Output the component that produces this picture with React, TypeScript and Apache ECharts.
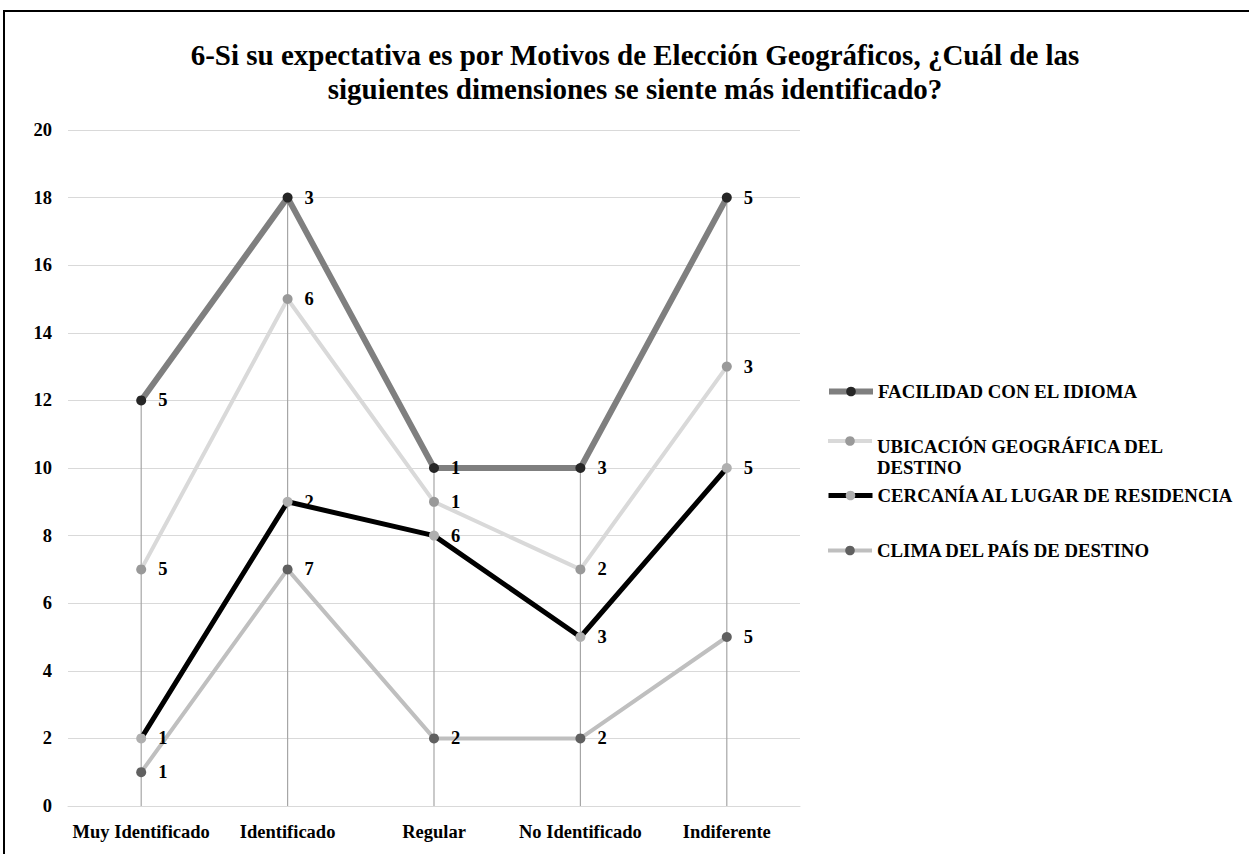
import React, { useEffect, useRef } from "react";
import * as echarts from "echarts";

const categories = ["Muy Identificado", "Identificado", "Regular", "No Identificado", "Indiferente"];
const seriesNames = [
  "CLIMA DEL PAÍS DE DESTINO",
  "CERCANÍA AL LUGAR DE RESIDENCIA",
  "UBICACIÓN GEOGRÁFICA DEL DESTINO",
  "FACILIDAD CON EL IDIOMA",
];
const climaValues = [1, 7, 2, 2, 5];
const cercaniaValues = [1, 2, 6, 3, 5];
const ubicacionValues = [5, 6, 1, 2, 3];
const facilidadValues = [5, 3, 1, 3, 5];
const yTicks = { min: 0, max: 20, interval: 2 };
const titleText =
  "6-Si su expectativa es por Motivos de Elección Geográficos, ¿Cuál de las\nsiguientes dimensiones se siente más identificado?";

const FONT = "'Liberation Serif', 'Times New Roman', serif";

export default function App() {
  const ref = useRef<HTMLDivElement>(null);
  useEffect(() => {
    document.body.style.margin = "0";
    const chart = echarts.init(ref.current!, null, { renderer: "svg" });
    const all = [climaValues, cercaniaValues, ubicacionValues, facilidadValues];
    const totals = categories.map((_, i) => all.reduce((s, a) => s + a[i], 0));
    const styles = [
      { line: "#bfbfbf", width: 4, marker: "#606060" },
      { line: "#000000", width: 5, marker: "#afafaf" },
      { line: "#d9d9d9", width: 4, marker: "#999999" },
      { line: "#7f7f7f", width: 6, marker: "#262626" },
    ];
    const labelStyle = {
      show: true,
      position: "right",
      distance: 12,
      fontFamily: FONT,
      fontWeight: "bold",
      fontSize: 18.5,
      color: "#000",
    };
    const lineSeries = all.map((vals, k) => ({
      type: "line",
      name: seriesNames[k],
      stack: "total",
      data: vals,
      symbol: "circle",
      symbolSize: 10,
      z: 3,
      lineStyle: { color: styles[k].line, width: styles[k].width },
      itemStyle: { color: styles[k].marker, borderWidth: 0 },
      label: labelStyle,
      emphasis: { disabled: true },
    }));
    const legendTops = [
      { k: 3, top: 381 },
      { k: 2, top: 404.5 },
      { k: 1, top: 485 },
      { k: 0, top: 540 },
    ];
    const legends = legendTops.map((l) => ({
      data: [seriesNames[l.k]],
      left: 826,
      top: l.top,
      padding: 0,
      orient: "vertical",
      itemWidth: 44,
      itemHeight: 12,
      itemGap: 0,
      selectedMode: false,
      lineStyle: { width: styles[l.k].width },
      formatter: (n: string) =>
        n === seriesNames[2]
          ? "{s| }\n{b|UBICACIÓN GEOGRÁFICA DEL}\n{b|DESTINO}"
          : n,
      textStyle: {
        fontFamily: FONT,
        fontWeight: "bold",
        fontSize: 18.8,
        color: "#000",
        lineHeight: 21,
        rich: {
          s: { lineHeight: 31, height: 31, fontSize: 10 },
          b: {
            fontFamily: FONT,
            fontWeight: "bold",
            fontSize: 18.8,
            lineHeight: 21,
            color: "#000",
          },
        },
      },
    }));
    chart.setOption({
      animation: false,
      graphic: [
        {
          type: "rect",
          shape: { x: 4, y: 11, width: 1300, height: 900 },
          style: { fill: "none", stroke: "#000", lineWidth: 2 },
          silent: true,
        },
        {
          type: "text",
          x: 635,
          y: 38,
          silent: true,
          style: {
            text: titleText,
            fontFamily: FONT,
            fontWeight: "bold",
            fontSize: 29,
            lineHeight: 34,
            fill: "#000",
            align: "center",
            verticalAlign: "top",
          },
        },
      ],
      legend: legends,
      grid: { left: 68, right: 449, top: 130, bottom: 48 },
      xAxis: {
        type: "category",
        data: categories,
        boundaryGap: true,
        axisLine: { show: true, lineStyle: { color: "#d9d9d9" } },
        axisTick: { show: false },
        axisLabel: {
          margin: 16,
          fontFamily: FONT,
          fontWeight: "bold",
          fontSize: 18.5,
          color: "#000",
          interval: 0,
        },
      },
      yAxis: {
        type: "value",
        min: yTicks.min,
        max: yTicks.max,
        interval: yTicks.interval,
        axisLine: { show: false },
        axisTick: { show: false },
        splitLine: { lineStyle: { color: "#d9d9d9", width: 1 } },
        axisLabel: {
          margin: 16,
          fontFamily: FONT,
          fontWeight: "bold",
          fontSize: 18.5,
          color: "#000",
        },
      },
      series: [
        {
          type: "custom",
          name: "drop",
          z: 1,
          silent: true,
          data: totals.map((t, i) => [i, t]),
          encode: { x: 0, y: 1 },
          renderItem: (params: any, api: any) => {
            const p0 = api.coord([api.value(0), 0]);
            const p1 = api.coord([api.value(0), api.value(1)]);
            return {
              type: "line",
              shape: { x1: p0[0], y1: p0[1], x2: p1[0], y2: p1[1] },
              style: { stroke: "#a6a6a6", lineWidth: 1.2 },
            };
          },
        },
        ...lineSeries,
      ],
    });
    return () => chart.dispose();
  }, []);
  return <div ref={ref} style={{ width: 1249, height: 854 }} />;
}
